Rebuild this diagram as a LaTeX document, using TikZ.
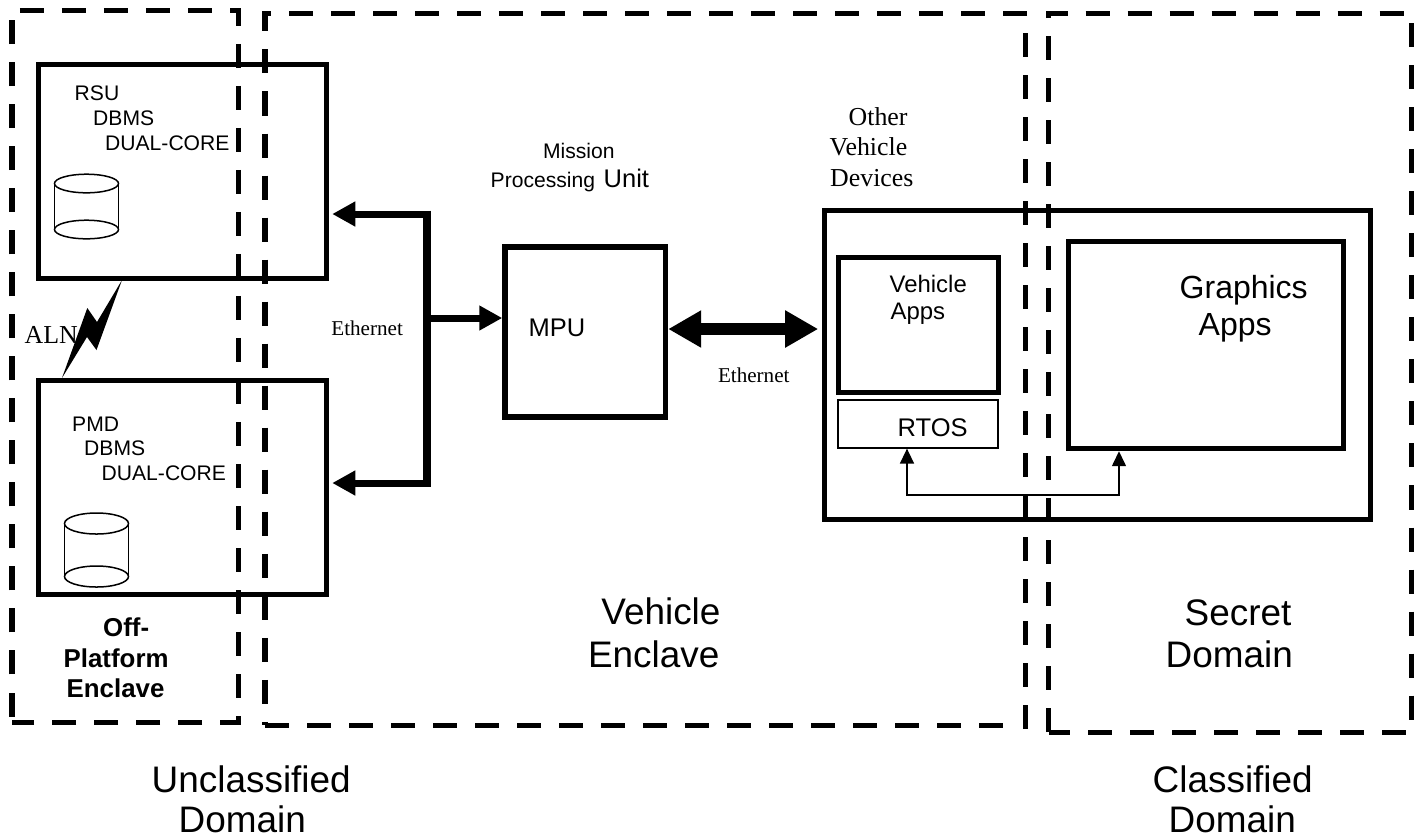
\documentclass[tikz,border=0pt]{standalone}
\usepackage{fontspec}
\setmainfont{Liberation Sans}
\newfontfamily\serifpart{Liberation Serif}
\usetikzlibrary{arrows.meta}

\tikzset{
    boxthick/.style={draw,line width=0.053cm,minimum width=#1},
    boxthin/.style={draw,line width=0.012cm,minimum width=#1},
    enclave/.style={line width=0.05cm,dash pattern=on 0.24cm off 0.18cm},
    buswire/.style={line width=0.075cm},
    busarrow/.style={line width=0.07cm,-{Triangle[length=0.23cm,width=0.235cm]}},
    linkarrow/.style={line width=0.12cm,{Triangle[length=0.33cm,width=0.35cm]}-{Triangle[length=0.33cm,width=0.35cm]}},
    osarrow/.style={line width=0.015cm,{Triangle[length=0.15cm,width=0.14cm]}-{Triangle[length=0.15cm,width=0.14cm]}},
    diskline/.style={line width=0.015cm},
    lab/.style={inner sep=0pt,anchor=base west,font=\fontsize{6}{7}\selectfont},
    labmid/.style={lab,font=\fontsize{7.25}{8}\selectfont},
    labbold/.style={lab,font=\fontsize{7.35}{8}\selectfont\bfseries},
    labbig/.style={lab,font=\fontsize{10.5}{12}\selectfont},
    labserif/.style={lab,font=\fontsize{6}{7}\selectfont\serifpart},
    labserifmid/.style={lab,font=\fontsize{7.35}{8}\selectfont\serifpart},
}

\begin{document}
\begin{tikzpicture}[x=0.01cm,y=-0.01cm]

\path[fill=white,use as bounding box] (0,0) rectangle (1420,838);

    % boxes
    \node[boxthick=2.88cm,minimum height=2.14cm] (rsu) at (182.5,171.5) {};
    \node[boxthick=2.88cm,minimum height=2.14cm] (pmd) at (182.5,487.5) {};
    \node[boxthick=1.605cm,minimum height=1.70cm] (mpu) at (585.25,332) {};
    \node[boxthick=5.45cm,minimum height=3.09cm] (others) at (1097.5,365) {};
    \node[boxthick=1.60cm,minimum height=1.35cm] (vehapps) at (918.5,325) {};
    \node[boxthin=1.60cm,minimum height=0.48cm] (rtos) at (918,424) {};
    \node[boxthick=2.75cm,minimum height=2.07cm] (gfxapps) at (1206,345) {};

    % enclaves and domains
    \draw[enclave] (12,716.5) -- (12,10) -- (238.3,10) -- (238.3,722) -- (12,722);

    \draw[enclave] (1027,13) -- (265,13) -- (265,725);
    \draw[enclave] (265,725) -- (1003,725);
    \draw[enclave] (1025,33) -- (1025,729);

    \draw[enclave] (1048.5,18) -- (1048.5,13) -- (1411.5,13) -- (1411.5,732) -- (1048.5,732);
    \draw[enclave] (1048.5,732) -- (1048.5,18);

    % disks
    \foreach \cx/\ctop/\cbot/\ry in {86.5/183.5/229.5/9.3, 96.5/523.5/576.5/10.5} {
        \draw[diskline] (\cx,\ctop) circle[x radius=32,y radius=\ry];
        \draw[diskline] (\cx,\cbot) circle[x radius=32,y radius=\ry];
        \draw[diskline] (\cx-32,\ctop) -- (\cx-32,\cbot);
        \draw[diskline] (\cx+32,\ctop) -- (\cx+32,\cbot);
    }

    % radio link
    \coordinate (boltup) at (122,280);
    \coordinate (boltdown) at (62,378);
    \fill (boltup) -- (96.5,350) -- (87,337) -- (boltdown) -- (87.3,308) -- (97,322) -- cycle;

    % ethernet bus
    \coordinate (bustop) at (427,214);
    \coordinate (busmid) at (427,318);
    \coordinate (busbot) at (427,483);
    \draw[buswire] (bustop) ++(0,-3.5) -- (busbot) -- ++(0,3.5);
    \draw[busarrow,shorten >=0.03cm] (bustop) -- (bustop -| rsu.east);
    \draw[busarrow,shorten >=0.03cm] (busbot) -- (busbot -| pmd.east);
    \draw[busarrow] (busmid) -- (busmid -| mpu.west);

    \coordinate (linkmid) at (740,329);
    \draw[linkarrow,shorten >=0.04cm] (linkmid -| mpu.east) -- (linkmid -| others.west);

    \coordinate (osleft) at (907,495);
    \coordinate (osright) at (1119,495);
    \draw[osarrow] (osleft |- rtos.south) -- (osleft) -- (osright) -- (osright |- gfxapps.south);

    % labels
    \node[lab] (rsuname) at (74,100.7) {RSU};
    \node[lab] (rsudb) at (92.5,125.7) {DBMS};
    \node[lab] (rsucpu) at (104.5,150) {DUAL-CORE};

    \node[lab] (pmdname) at (71.5,431) {PMD};
    \node[lab] (pmddb) at (83.5,455.7) {DBMS};
    \node[lab] (pmdcpu) at (101,480) {DUAL-CORE};

    \node[labserifmid] (aln) at (24,343) {ALN};

    \node[labbold] (offa) at (102.5,636.7) {Off-};
    \node[labbold] (offb) at (63,667.7) {Platform};
    \node[labbold] (offc) at (66,697.7) {Enclave};

    \node[labbig] (unclassa) at (151,792) {Unclassified};
    \node[labbig] (unclassb) at (178,832.7) {Domain};
    \node[labbig] (classa) at (1152,792) {Classified};
    \node[labbig] (classb) at (1168,832.7) {Domain};

    \node[lab] (mpunamea) at (542.3,158.3) {Mission};
    \node[lab] (mpunameb) at (490,187.3) {Processing};
    \node[labmid] (mpunamec) at (603,187.3) {Unit};
    \node[labmid] (mputext) at (528,336) {MPU};

    \node[labserif] (etherleft) at (330.7,335) {Ethernet};
    \node[labserif] (etherright) at (717.3,382.3) {Ethernet};

    \node[labserifmid] (othera) at (848,125) {Other};
    \node[labserifmid] (otherb) at (829,155.7) {Vehicle};
    \node[labserifmid] (otherc) at (829.5,186.7) {Devices};

    \node[lab,font=\fontsize{6.8}{8}\selectfont] (vehappsa) at (889,292.7) {Vehicle};
    \node[lab,font=\fontsize{6.8}{8}\selectfont] (vehappsb) at (890,319.3) {Apps};
    \node[labmid] (rtostext) at (897,436) {RTOS};
    \node[lab,font=\fontsize{9.1}{10}\selectfont] (gfxa) at (1179,298) {Graphics};
    \node[lab,font=\fontsize{9.1}{10}\selectfont] (gfxb) at (1198,335) {Apps};

    \node[labbig] (vehencla) at (600.7,624.3) {Vehicle};
    \node[labbig] (vehenclb) at (587.3,667.7) {Enclave};
    \node[labbig] (secreta) at (1184,625) {Secret};
    \node[labbig] (secretb) at (1165,667.7) {Domain};

\end{tikzpicture}
\end{document}
